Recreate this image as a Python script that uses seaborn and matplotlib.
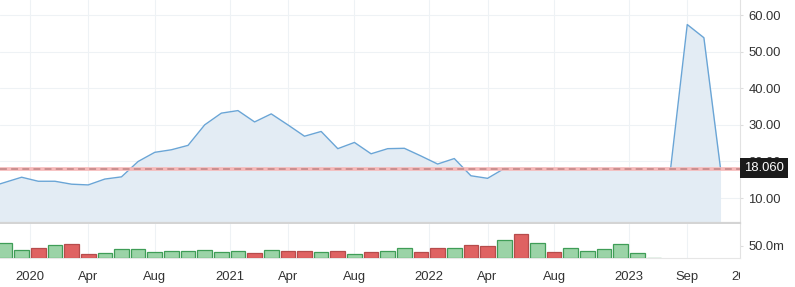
import matplotlib
matplotlib.use("Agg")
import matplotlib.pyplot as plt
import matplotlib.transforms as mtransforms
import seaborn as sns
import pandas as pd
import numpy as np

# ---------------- data ----------------
# monthly closes, first value lies just left of the visible window
price = [12.9, 14.3, 15.7, 14.6, 14.6, 13.8, 13.6, 15.2, 15.8, 20.0, 22.5,
         23.2, 24.4, 30.0, 33.2, 33.9, 30.8, 33.0, 30.0, 26.9, 28.2,
         23.5, 25.2, 22.1, 23.5, 23.6, 21.5, 19.3, 20.8, 16.1, 15.4,
         18.06, 18.06, 18.06, 18.06, 18.06, 18.06, 18.06, 18.06, 18.06, 18.06,
         18.06, 57.4, 53.8, 18.06]
volume_m = [59.6, 33, 42, 52, 55.6, 17, 21, 38, 38, 25,
            29, 29, 33, 25, 29, 21, 33, 29, 29, 25,
            29, 17, 25, 29, 42, 25, 42, 42, 53, 48,
            73, 95, 60, 25, 41, 29, 37, 56, 21, 2]
direction = list("ggrgrrgggg" "gggggrgrrg" "rgrggrrgrr" "grgrgggggg")
last_price = 18.06
tick_pos = [1.5, 5, 9, 13.5, 17, 21, 25.5, 29, 33, 37.5, 41]
tick_labels = ["2020", "Apr", "Aug", "2021", "Apr", "Aug", "2022", "Apr", "Aug", "2023", "Sep"]
extra_tick = (44.5, "2024")
price_ticks = [10, 20, 30, 40, 50, 60]
vol_ticks = [50]

# ---------------- style ----------------
sns.set_style("white")
plt.rcParams['font.family'] = ['Liberation Sans', 'DejaVu Sans']

W, H = 795, 287
fig = plt.figure(figsize=(W / 100, H / 100), dpi=100)
right = 740 / W
ax = fig.add_axes([0, 1 - 223 / H, right, 223 / H])
axv = fig.add_axes([0, 1 - 258.3 / H, right, (258.3 - 224) / H])

idx = np.arange(len(price)) - 1
df_p = pd.DataFrame({"i": idx, "price": price})
df_v = pd.DataFrame({"i": np.arange(len(volume_m)), "vol": volume_m, "dir": direction})

xlim = (-0.30, 44.17)
txt_col = "#333333"
fs = 9.4

# price panel
ax.fill_between(df_p["i"], df_p["price"], 0, color="#e3ecf4", lw=0, zorder=1)
sns.lineplot(data=df_p, x="i", y="price", ax=ax, color="#6aa5d6", lw=1.0, zorder=3)
ax.axhline(last_price, color="#f6b8b8", lw=2.6, zorder=4)
ax.axhline(last_price, color="#bf8585", lw=1.1, dashes=(4.5, 2.8), zorder=5)
ax.set_xlim(*xlim)
ax.set_ylim(3.2, 64.1)
ax.set_xticks(tick_pos)
ax.set_xticklabels([])
ax.tick_params(axis="x", length=0)
ax.yaxis.tick_right()
ax.set_yticks(price_ticks)
ax.set_yticklabels([f"{v:.2f}" for v in price_ticks], color=txt_col, fontsize=fs)
ax.tick_params(axis="y", length=2.5, width=0.8, color="#dddddd", pad=3.5)
ax.grid(True, axis="both", color="#eef2f5", lw=0.8, zorder=0)
ax.set_axisbelow(True)
ax.set_xlabel("")
ax.set_ylabel("")
for s in ["top", "left"]:
    ax.spines[s].set_visible(False)
ax.spines["right"].set_color("#e2e2e2")
ax.spines["right"].set_linewidth(0.8)
ax.spines["bottom"].set_color("#d4d4d4")
ax.spines["bottom"].set_linewidth(1.6)

# last price label
trans = mtransforms.blended_transform_factory(ax.transAxes, ax.transData)
ax.text(1.0 + 4 / 740, last_price + 0.15, f"{last_price:.3f}", transform=trans,
        ha="left", va="center", color="white", fontsize=fs, zorder=10,
        clip_on=False,
        bbox=dict(boxstyle="square,pad=0.33", fc="#1b1b1b", ec="none"))

# volume panel
pal = {"g": "#9bd3a7", "r": "#df6262"}
edge = {"g": "#3f9d57", "r": "#b64c4c"}
sns.barplot(data=df_v, x="i", y="vol", hue="dir", palette=pal, native_scale=True,
            dodge=False, width=0.88, ax=axv, legend=False, zorder=3, saturation=1)
for p in axv.patches:
    fc = matplotlib.colors.to_hex(p.get_facecolor())
    key = "g" if fc == pal["g"] else "r"
    p.set_edgecolor(edge[key])
    p.set_linewidth(0.9)
axv.set_xlim(*xlim)
axv.set_ylim(0, 136)
axv.yaxis.tick_right()
axv.set_yticks(vol_ticks)
axv.set_yticklabels([f"{v:.1f}m" for v in vol_ticks], color=txt_col, fontsize=fs)
axv.tick_params(axis="y", length=2.5, width=0.8, color="#dddddd", pad=3.5)
axv.set_xticks(tick_pos)
axv.set_xticklabels(tick_labels, color=txt_col, fontsize=fs)
axv.tick_params(axis="x", length=6, color="#e8ecef", width=0.8, pad=2.8)
axv.grid(True, axis="x", color="#eef2f5", lw=0.8, zorder=0)
axv.set_axisbelow(True)
axv.set_xlabel("")
axv.set_ylabel("")
for s in ["top", "left"]:
    axv.spines[s].set_visible(False)
axv.spines["right"].set_color("#e2e2e2")
axv.spines["right"].set_linewidth(0.8)
axv.spines["bottom"].set_color("#e6e6e6")
axv.spines["bottom"].set_linewidth(0.8)

# trailing tick label, clipped at the plot's right edge
fig.canvas.draw()
ref_lbl = axv.get_xticklabels()[0]
_, y_disp = ref_lbl.get_window_extent().get_points().mean(axis=0)
x_disp = axv.transData.transform((extra_tick[0], 0))[0]
t = fig.text(x_disp, y_disp, extra_tick[1], transform=None, ha="center", va="center",
             color=txt_col, fontsize=fs)
t.set_clip_on(True)
t.set_clip_box(mtransforms.Bbox([[0, 0], [740, H]]))

fig.savefig("out.png", dpi=100, facecolor="white")
